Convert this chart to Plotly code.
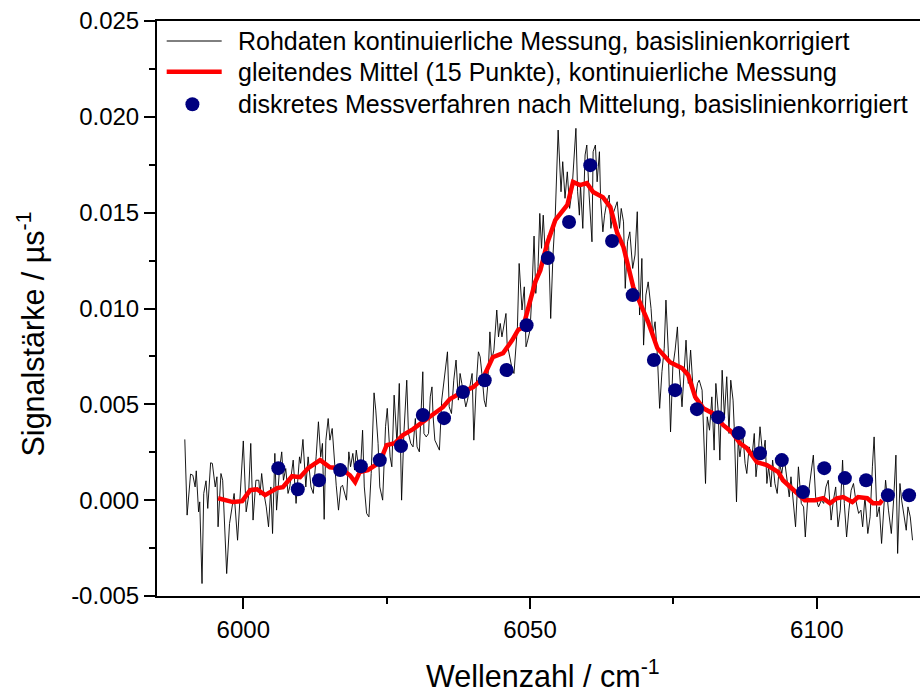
import plotly.graph_objects as go

# ---------------- data ----------------
raw_x = [5989.8, 5990.2, 5990.8, 5991.2, 5991.6, 5991.8, 5992.2, 5992.4, 5992.8, 5993.1,
         5993.5, 5993.8, 5994.3, 5994.6, 5995.1, 5995.4, 5995.6, 5996.1, 5996.4, 5997.1,
         5997.6, 5998.0, 5998.4, 5999.0, 5999.4, 6000.0, 6000.5, 6000.9, 6001.3, 6001.7,
         6002.2, 6002.7, 6002.9, 6003.2, 6003.5, 6004.0, 6004.4, 6004.8, 6005.1, 6005.5,
         6005.8, 6006.3, 6006.7, 6007.0, 6007.4, 6007.8, 6008.1, 6008.7, 6009.2, 6009.8,
         6010.0, 6010.4, 6010.9, 6011.3, 6011.8, 6012.2, 6012.7, 6013.1, 6013.5, 6013.8,
         6014.1, 6014.4, 6014.8, 6015.1, 6015.5, 6015.8, 6016.2, 6016.6, 6017.0, 6017.3,
         6017.7, 6018.0, 6018.4, 6018.7, 6019.1, 6019.4, 6019.7, 6020.1, 6020.4, 6020.8,
         6021.1, 6021.5, 6021.9, 6022.3, 6022.8, 6023.1, 6023.5, 6023.8, 6024.3, 6024.8,
         6025.1, 6025.6, 6025.9, 6026.3, 6026.8, 6027.2, 6027.6, 6028.0, 6028.5, 6028.8,
         6029.2, 6029.6, 6030.0, 6030.3, 6030.7, 6031.3, 6031.5, 6031.9, 6032.3, 6032.6,
         6032.9, 6033.1, 6033.4, 6034.2, 6034.6, 6034.9, 6035.6, 6035.9, 6036.3, 6036.7,
         6037.1, 6037.5, 6037.8, 6038.1, 6038.4, 6038.8, 6039.1, 6039.5, 6039.9, 6040.2,
         6040.6, 6041.0, 6041.3, 6041.6, 6042.0, 6042.3, 6042.6, 6043.0, 6043.3, 6043.7,
         6044.2, 6044.5, 6044.8, 6045.1, 6045.3, 6045.8, 6046.0, 6046.4, 6046.8, 6047.2,
         6047.6, 6047.8, 6048.1, 6048.6, 6049.0, 6049.3, 6049.6, 6050.0, 6050.3, 6050.7,
         6051.0, 6051.4, 6051.7, 6052.0, 6052.3, 6052.7, 6053.2, 6053.6, 6054.0, 6054.4,
         6054.9, 6055.4, 6055.7, 6056.1, 6056.5, 6056.9, 6057.3, 6058.0, 6058.3, 6058.6,
         6058.8, 6059.2, 6059.6, 6059.9, 6060.3, 6060.8, 6061.0, 6061.4, 6061.7, 6062.1,
         6062.3, 6062.7, 6063.0, 6063.4, 6063.8, 6064.1, 6064.4, 6064.8, 6065.2, 6065.6,
         6065.9, 6066.3, 6066.6, 6067.0, 6067.4, 6067.9, 6068.3, 6068.7, 6069.1, 6069.5,
         6069.8, 6070.2, 6070.6, 6071.1, 6071.4, 6071.8, 6072.2, 6072.6, 6073.0, 6073.4,
         6073.7, 6074.1, 6074.5, 6074.9, 6075.3, 6075.7, 6076.0, 6076.5, 6076.9, 6077.2,
         6077.6, 6078.0, 6078.4, 6078.8, 6079.2, 6079.5, 6080.0, 6080.2, 6080.6, 6080.9,
         6081.3, 6081.7, 6082.1, 6082.4, 6082.8, 6083.1, 6083.5, 6083.9, 6084.3, 6084.7,
         6085.0, 6085.4, 6085.6, 6086.0, 6086.3, 6086.6, 6087.1, 6087.5, 6087.8, 6088.2,
         6088.7, 6089.1, 6089.4, 6089.8, 6090.1, 6090.6, 6091.0, 6091.3, 6091.6, 6092.0,
         6092.3, 6092.7, 6093.1, 6093.5, 6093.9, 6094.3, 6094.8, 6095.2, 6095.5, 6095.9,
         6096.3, 6096.8, 6097.3, 6097.7, 6098.0, 6098.4, 6098.8, 6099.4, 6099.8, 6100.3,
         6100.8, 6101.2, 6101.6, 6102.0, 6102.5, 6102.9, 6103.3, 6103.7, 6104.1, 6104.5,
         6104.8, 6105.2, 6105.6, 6106.0, 6106.4, 6106.8, 6107.3, 6107.7, 6108.0, 6108.4,
         6108.9, 6109.3, 6109.7, 6110.0, 6110.5, 6110.9, 6111.3, 6111.7, 6112.0, 6112.5,
         6113.0, 6113.4, 6113.8, 6114.1, 6114.5, 6114.8, 6115.3, 6115.6, 6115.9, 6116.3,
         6116.7]

raw_y = [0.00317, -0.00078, 0.00136, 0.00130, 0.00069, 0.00153, -0.00061, -0.00009, -0.00435, 0.00035,
         0.00101, -0.00043, 0.00195, 0.00192, 0.00069, 0.00122, -0.00139, 0.00139, 0.00104, -0.00383,
         -0.00122, -0.00035, 0.00035, -0.00209, -0.00017, 0.00309, -0.00061, 0.00017, 0.00296, -0.00104,
         0.00104, 0.00104, 0.00026, 0.00139, 0.00052, -0.00035, -0.00139, 0.00069, -0.00174, 0.00244,
         -0.00052, 0.00157, 0.00252, 0.00104, 0.00165, 0.00035, 0.00069, 0.00209, -0.00017, 0.00226,
         0.00192, 0.00317, 0.00069, 0.00226, 0.00069, 0.00035, 0.00226, 0.00409, 0.00226, 0.00296,
         -0.00100, 0.00313, 0.00426, 0.00313, 0.00374, 0.00226, 0.00078, -0.00052, 0.00069, 0.00078,
         0.00035, 0.00000, 0.00252, 0.00174, 0.00244, 0.00157, 0.00261, 0.00174, 0.00139, 0.00365,
         0.00069, -0.00069, -0.00087, 0.00139, 0.00560, 0.00470, 0.00296, 0.00069, 0.00000, 0.00383,
         0.00479, 0.00226, 0.00174, 0.00548, 0.00296, 0.00609, 0.00000, 0.00348, 0.00626, 0.00348,
         0.00296, 0.00278, 0.00426, 0.00278, 0.00252, 0.00670, 0.00348, 0.00330, 0.00348, 0.00539,
         0.00591, 0.00435, 0.00313, 0.00261, 0.00522, 0.00609, 0.00774, 0.00487, 0.00452, 0.00626,
         0.00731, 0.00522, 0.00661, 0.00609, 0.00557, 0.00487, 0.00522, 0.00591, 0.00661, 0.00313,
         0.00591, 0.00774, 0.00748, 0.00661, 0.00522, 0.00487, 0.00591, 0.00878, 0.00731, 0.00783,
         0.00992, 0.00852, 0.00922, 0.00852, 0.00887, 0.00974, 0.00818, 0.00748, 0.00696, 0.00661,
         0.00800, 0.00904, 0.01235, 0.00992, 0.01113, 0.00800, 0.00835, 0.00887, 0.01061, 0.01378,
         0.01079, 0.01218, 0.01496, 0.01314, 0.01487, 0.01261, 0.01383, 0.00948, 0.01279, 0.01487,
         0.01931, 0.01609, 0.01766, 0.01575, 0.01713, 0.01522, 0.01609, 0.01940, 0.01609, 0.01487,
         0.01644, 0.01418, 0.01801, 0.01853, 0.01592, 0.01348, 0.01818, 0.01853, 0.01661, 0.01818,
         0.01575, 0.01400, 0.01487, 0.01557, 0.01592, 0.01418, 0.01487, 0.01522, 0.01557, 0.01418,
         0.01522, 0.01452, 0.01105, 0.01348, 0.01400, 0.01209, 0.01279, 0.01505, 0.00966, 0.01261,
         0.00809, 0.01070, 0.01139, 0.01000, 0.00861, 0.00931, 0.00757, 0.00479, 0.00670, 0.00792,
         0.01044, 0.00783, 0.00356, 0.00696, 0.00783, 0.00904, 0.00696, 0.00487, 0.00731, 0.00835,
         0.00609, 0.00783, 0.00591, 0.00522, 0.00609, 0.00626, 0.00574, 0.00383, 0.00087, 0.00435,
         0.00365, 0.00539, 0.00261, 0.00609, 0.00470, 0.00209, 0.00678, 0.00435, 0.00644, 0.00348,
         0.00626, 0.00522, 0.00383, -0.00009, 0.00313, 0.00226, 0.00348, 0.00192, 0.00139, 0.00278,
         0.00226, 0.00348, 0.00122, 0.00244, 0.00383, 0.00226, 0.00313, 0.00087, 0.00174, 0.00069,
         0.00209, 0.00087, 0.00035, 0.00192, 0.00139, 0.00226, 0.00104, 0.00017, 0.00122, -0.00017,
         -0.00139, 0.00174, -0.00017, -0.00035, -0.00192, 0.00000, 0.00087, 0.00235, 0.00017, -0.00035,
         0.00000, -0.00017, 0.00069, 0.00104, -0.00104, 0.00000, 0.00069, -0.00139, -0.00052, 0.00209,
         -0.00017, -0.00192, -0.00052, 0.00052, 0.00087, 0.00000, -0.00069, -0.00052, -0.00139, 0.00017,
         -0.00174, -0.00087, 0.00174, 0.00330, -0.00087, -0.00035, -0.00226, 0.00000, 0.00104, -0.00052,
         -0.00174, 0.00000, 0.00235, -0.00278, 0.00087, 0.00000, -0.00087, -0.00157, -0.00035, -0.00087,
         -0.00209]

avg_x = [5995.6, 5997.2, 5998.2, 5999.8, 6001.2, 6002.4, 6003.8, 6005.9, 6006.9, 6008.5,
         6009.9, 6011.3, 6013.4, 6015.1, 6016.9, 6018.6, 6019.5, 6020.3, 6021.7, 6023.8,
         6025.0, 6026.4, 6027.8, 6029.6, 6031.3, 6033.1, 6034.8, 6036.0, 6037.8, 6040.1,
         6041.8, 6043.5, 6045.3, 6046.9, 6047.9, 6048.8, 6049.7, 6050.9, 6051.8, 6053.0,
         6054.4, 6056.5, 6057.5, 6058.7, 6059.9, 6061.0, 6062.7, 6064.0, 6065.2, 6066.3,
         6068.0, 6069.2, 6070.6, 6072.2, 6074.4, 6076.5, 6077.6, 6078.8, 6080.2, 6081.8,
         6083.7, 6085.2, 6086.6, 6087.8, 6089.6, 6091.3, 6093.3, 6094.1, 6096.2, 6097.9,
         6099.7, 6101.1, 6102.3, 6103.5, 6104.6, 6106.2, 6107.2, 6108.8, 6109.8, 6111.0,
         6111.4]
avg_y = [0.00010, 0.00000, -0.00010, -0.00005, 0.00052, 0.00057, 0.00026, 0.00063, 0.00068, 0.00125,
         0.00120, 0.00167, 0.00209, 0.00172, 0.00167, 0.00130, 0.00094, 0.00146, 0.00157, 0.00198,
         0.00287, 0.00297, 0.00339, 0.00371, 0.00407, 0.00444, 0.00485, 0.00527, 0.00558, 0.00590,
         0.00637, 0.00746, 0.00767, 0.00835, 0.00887, 0.00903, 0.01007, 0.01138, 0.01200, 0.01341,
         0.01461, 0.01540, 0.01660, 0.01644, 0.01654, 0.01608, 0.01581, 0.01529, 0.01394, 0.01320,
         0.01112, 0.01028, 0.00929, 0.00793, 0.00720, 0.00689, 0.00652, 0.00538, 0.00480, 0.00454,
         0.00391, 0.00355, 0.00297, 0.00271, 0.00198, 0.00183, 0.00146, 0.00104, 0.00042, 0.00000,
         0.00000, 0.00010, -0.00016, 0.00010, 0.00016, -0.00010, 0.00016, 0.00010, -0.00016, -0.00016,
         0.00000]

disc_x = [6006.1, 6009.5, 6013.2, 6016.9, 6020.5, 6023.8, 6027.5, 6031.3, 6035.0, 6038.3,
          6042.1, 6045.9, 6049.4, 6053.1, 6056.8, 6060.5, 6064.3, 6067.9, 6071.6, 6075.3,
          6079.1, 6082.8, 6086.4, 6090.1, 6093.9, 6097.6, 6101.3, 6104.9, 6108.6, 6112.4,
          6116.1]
disc_y = [0.00167, 0.00057, 0.00104, 0.00157, 0.00177, 0.00209, 0.00282, 0.00444, 0.00428, 0.00564,
          0.00626, 0.00679, 0.00913, 0.01263, 0.01451, 0.01748, 0.01352, 0.01070, 0.00731, 0.00574,
          0.00475, 0.00433, 0.00350, 0.00245, 0.00209, 0.00042, 0.00167, 0.00115, 0.00104, 0.00026,
          0.00026]

x_tickvals = [6000, 6050, 6100]
x_ticktext = ["6000", "6050", "6100"]
y_tickvals = [-0.005, 0.000, 0.005, 0.010, 0.015, 0.020, 0.025]
y_ticktext = ["-0.005", "0.000", "0.005", "0.010", "0.015", "0.020", "0.025"]

legend_labels = ["Rohdaten kontinuierliche Messung, basislinienkorrigiert",
                 "gleitendes Mittel (15 Punkte), kontinuierliche Messung",
                 "diskretes Messverfahren nach Mittelung, basislinienkorrigiert"]
x_title = "Wellenzahl / cm<sup>-1</sup>"
y_title = "Signalstärke / µs<sup>-1</sup>"

FONT = "Liberation Sans, Arial, sans-serif"
RED = "#ff0000"
NAVY = "#00007f"

fig = go.Figure()
fig.add_trace(go.Scatter(x=raw_x, y=raw_y, mode="lines", name=legend_labels[0],
                         line=dict(color="black", width=0.9), showlegend=False))
fig.add_trace(go.Scatter(x=avg_x, y=avg_y, mode="lines", name=legend_labels[1],
                         line=dict(color=RED, width=4.5), showlegend=False))
fig.add_trace(go.Scatter(x=disc_x, y=disc_y, mode="markers", name=legend_labels[2],
                         marker=dict(color=NAVY, size=14, line=dict(width=0)),
                         showlegend=False, cliponaxis=False))

# manual legend (samples + text)
leg_rows = [0.9652, 0.9118, 0.8551]
shapes = [
    dict(type="line", xref="paper", yref="paper", x0=0.0127, x1=0.0848,
         y0=leg_rows[0], y1=leg_rows[0], line=dict(color="black", width=1)),
    dict(type="line", xref="paper", yref="paper", x0=0.0127, x1=0.0848,
         y0=leg_rows[1], y1=leg_rows[1], line=dict(color=RED, width=4.5)),
    dict(type="circle", xref="paper", yref="paper", xsizemode="pixel", ysizemode="pixel",
         xanchor=0.0464, yanchor=leg_rows[2], x0=-7, x1=7, y0=-7, y1=7,
         fillcolor=NAVY, line=dict(width=0)),
]
annotations = []
for lab, yy in zip(legend_labels, leg_rows):
    annotations.append(dict(text=lab, xref="paper", yref="paper", x=0.1035, y=yy,
                            xanchor="left", yanchor="middle", showarrow=False,
                            font=dict(family=FONT, size=25, color="black")))
# axis titles
annotations.append(dict(text=x_title, xref="paper", yref="paper", x=0.506, y=-0.135,
                        xanchor="center", yanchor="middle", showarrow=False,
                        font=dict(family=FONT, size=30.5, color="black")))
annotations.append(dict(text=y_title, xref="paper", yref="paper", x=-0.165, y=0.455,
                        xanchor="center", yanchor="middle", textangle=-90, showarrow=False,
                        font=dict(family=FONT, size=30.5, color="black")))

fig.update_layout(
    width=920, height=693,
    margin=dict(l=157, r=0, t=21, b=97, pad=0),
    paper_bgcolor="white", plot_bgcolor="white",
    font=dict(family=FONT, color="black", size=24),
    shapes=shapes, annotations=annotations,
    showlegend=False,
)
fig.update_xaxes(
    range=[5984.95, 6118.0], tickmode="array", tickvals=x_tickvals, ticktext=x_ticktext,
    ticks="outside", ticklen=11, tickwidth=2, tickcolor="black",
    showline=True, linewidth=2, linecolor="black", mirror=True,
    showgrid=False, zeroline=False,
    tickfont=dict(family=FONT, size=24, color="black"),
    minor=dict(tickmode="linear", tick0=0, dtick=25, ticks="outside", ticklen=6,
               tickwidth=2, tickcolor="black", showgrid=False),
    automargin=False,
)
fig.update_yaxes(
    range=[-0.005, 0.025], tickmode="array", tickvals=y_tickvals, ticktext=y_ticktext,
    ticks="outside", ticklen=11, tickwidth=2, tickcolor="black",
    showline=True, linewidth=2, linecolor="black", mirror=False,
    showgrid=False, zeroline=False,
    tickfont=dict(family=FONT, size=24, color="black"),
    minor=dict(tickmode="linear", tick0=0, dtick=0.0025, ticks="outside", ticklen=6,
               tickwidth=2, tickcolor="black", showgrid=False),
    automargin=False,
)

fig.write_html("out.html")
